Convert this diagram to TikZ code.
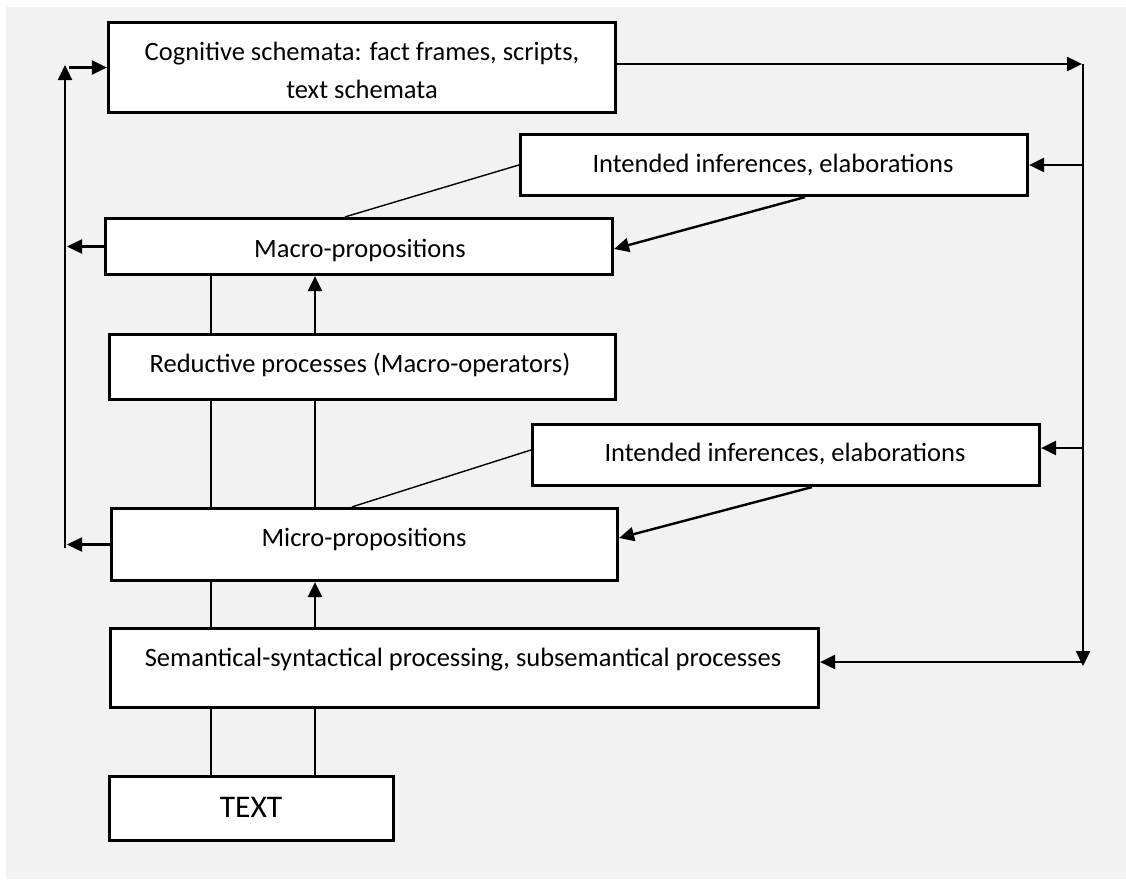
\documentclass[tikz,border=0pt]{standalone}
\usepackage{fontspec}
\setmainfont{Carlito}
\usetikzlibrary{arrows.meta}
\definecolor{bgc}{HTML}{F2F2F2}
\begin{document}
\begin{tikzpicture}[x=1pt,y=-1pt,
  box/.style={draw, line width=3.2pt, fill=white, inner sep=0pt},
  lbl/.style={inner sep=0pt, font=\fontsize{26.5}{32}\selectfont},
  thinline/.style={line width=1.4pt},
  arr/.style={line width=2.4pt, -{Triangle[length=15pt,width=14pt]}},
]
\useasboundingbox (0,0) rectangle (1126,879);
\fill[bgc] (6,7) rectangle (1126,879);

% boxes
\node[box, minimum width=507pt, minimum height=90pt] (cog) at (362,67.5) {};
\node[box, minimum width=507pt, minimum height=61pt] (inf1) at (774,165) {};
\node[box, minimum width=507pt, minimum height=56pt] (macro) at (359,246.5) {};
\node[box, minimum width=506pt, minimum height=65pt] (red) at (362.5,367) {};
\node[box, minimum width=507pt, minimum height=61pt] (inf2) at (786,455) {};
\node[box, minimum width=506pt, minimum height=72pt] (micro) at (364.5,544.5) {};
\node[box, minimum width=708pt, minimum height=79pt] (sem) at (464.5,668) {};
\node[box, minimum width=284pt, minimum height=64pt] (txt) at (251.5,808.5) {};

% labels
\node[lbl, anchor=base] (cogA) at (362,60) {Cognitive schemata: fact frames, scripts,};
\node[lbl, anchor=base] (cogB) at (362,98) {text schemata};
\node[lbl, anchor=base] (inf1t) at (773,172) {Intended inferences, elaborations};
\node[lbl, anchor=base] (macrot) at (360,257) {Macro-propositions};
\node[lbl, anchor=base] (redt) at (360,372) {Reductive processes (Macro-operators)};
\node[lbl, anchor=base] (inf2t) at (785,461) {Intended inferences, elaborations};
\node[lbl, anchor=base] (microt) at (364,546) {Micro-propositions};
\node[lbl, anchor=base] (semt) at (463,666) {Semantical-syntactical processing, subsemantical processes};
\node[lbl, anchor=base, font=\fontsize{31.5}{36}\selectfont] (txtt) at (251,817) {TEXT};

% helper coordinates
\coordinate (v1) at (211,0);
\coordinate (v2) at (315,0);
\coordinate (Lbot) at (65,548);
\coordinate (Ltop) at (65,65);
\coordinate (Lcog) at (69,67.5);
\coordinate (Lmac) at (67,246.5);
\coordinate (Lmic) at (67,544.5);
\coordinate (Rtop) at (1083,64);
\coordinate (Rbot) at (1083,666);
\coordinate (Rcog) at (1082,64);
\coordinate (Ri1) at (1083,165);
\coordinate (Ri2) at (1083,448);
\coordinate (Rsem) at (1083,662);

% left feedback
\draw[arr] (Lbot) -- (Ltop);
\draw[arr] (Lcog) -- (cog.west);
\draw[arr] (macro.west) -- (Lmac);
\draw[arr] (micro.west) -- (Lmic);

% right feedback
\draw[arr] ([yshift=3.5pt]cog.east) -- (Rcog);
\draw[arr] (Rtop) -- (Rbot);
\draw[arr] (Ri1) -- (inf1.east);
\draw[arr] (Ri2) -- ([yshift=7pt]inf2.east);
\draw[arr] (Rsem) -- ([yshift=6pt]sem.east);

% inference links
\draw[thinline] ([xshift=-14pt]macro.north) -- (inf1.west);
\draw[arr] ([xshift=31pt]inf1.south) -- ([yshift=-2.5pt]macro.east);
\draw[thinline] ([xshift=-12.5pt]micro.north) -- ([yshift=5pt]inf2.west);
\draw[arr] ([xshift=26pt]inf2.south) -- ([yshift=6.5pt]micro.east);

% vertical links
\draw[thinline] (macro.south -| v1) -- (red.north -| v1);
\draw[arr] (red.north -| v2) -- (macro.south -| v2);
\draw[thinline] (red.south -| v1) -- (micro.north -| v1);
\draw[thinline] (red.south -| v2) -- (micro.north -| v2);
\draw[thinline] (micro.south -| v1) -- (sem.north -| v1);
\draw[arr] (sem.north -| v2) -- (micro.south -| v2);
\draw[thinline] (sem.south -| v1) -- (txt.north -| v1);
\draw[thinline] (sem.south -| v2) -- (txt.north -| v2);
\end{tikzpicture}
\end{document}
